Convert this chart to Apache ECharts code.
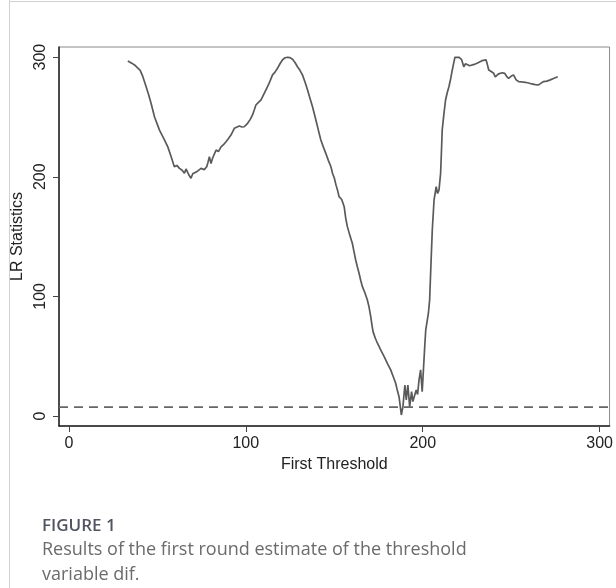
<!DOCTYPE html>
<html>
<head>
<meta charset="utf-8">
<script src="https://cdn.jsdelivr.net/npm/echarts@6/dist/echarts.min.js"></script>
<style>
  html, body { margin: 0; padding: 0; background: #fff; }
  #main { width: 616px; height: 588px; }
</style>
</head>
<body>
<div id="main"></div>
<script>
// threshold grid values (x) and LR statistic (y)
var thresholds = [
  33.3, 35.5, 37.1, 40.3, 41.8, 43.7, 45.2, 46.5, 48.4, 51.2, 54.0, 55.9, 57.8, 59.6, 61.0, 62.5,
  64.0, 65.3, 66.2, 67.1, 68.0, 69.0, 70.0, 70.9, 72.5, 74.7, 76.5, 77.9, 78.6, 79.4, 80.3, 81.2,
  82.2, 83.2, 84.5, 86.0, 87.5, 88.8, 90.2, 91.6, 93.5, 94.5, 96.3, 97.8, 99.1, 101.0, 102.5, 103.8,
  104.8, 105.7, 107.0, 108.6, 110.4, 111.8, 113.2, 115.1, 116.5, 117.9, 119.3, 120.7, 122.2, 123.6,
  125.0, 126.4, 127.8, 129.2, 130.6, 132.0, 133.5, 134.9, 136.3, 137.7, 139.6, 141.0, 142.4, 143.8,
  145.2, 146.7, 148.1, 149.0, 150.0, 151.0, 151.8, 152.7, 154.2, 155.6, 156.5, 157.4, 158.8, 160.2,
  161.2, 162.1, 163.0, 164.0, 165.0, 165.9, 167.3, 168.7, 169.6, 170.6, 171.3, 171.9, 173.2, 174.4,
  176.3, 178.2, 180.0, 181.9, 183.3, 184.7, 185.7, 186.6, 187.3, 187.9, 188.8, 189.9, 190.7, 191.6,
  192.6, 193.7, 194.4, 195.0, 196.3, 197.1, 197.9, 198.8, 199.7, 200.7, 201.2, 201.7, 202.6, 203.2,
  203.9, 204.6, 205.4, 206.4, 207.0, 207.6, 208.4, 209.2, 210.1, 210.6, 211.0, 212.0, 212.9, 213.8,
  214.8, 215.8, 216.7, 217.5, 218.2, 219.3, 220.4, 221.9, 222.6, 223.2, 224.2, 225.1, 226.5, 227.9,
  229.3, 230.7, 232.1, 233.5, 235.8, 236.5, 237.3, 238.7, 240.1, 241.0, 241.9, 242.8, 243.8, 245.0,
  246.3, 247.4, 248.5, 249.9, 251.3, 252.8, 254.2, 256.0, 257.9, 259.8, 261.7, 263.6, 265.5, 266.9,
  268.3, 270.2, 272.1, 274.2, 276.3
];
var lrStats = [
  296.8, 295, 293.5, 289, 283.7, 275, 268, 261, 250, 239, 230.8, 225, 216.8, 208.4, 209.5, 207,
  205.5, 203, 206.5, 205.7, 201, 198.7, 202.5, 203.4, 204.5, 207, 206, 208.4, 212, 216.8, 211, 215.5,
  219, 222.4, 221, 225, 227, 229.3, 232, 234.9, 240.5, 241.4, 242.4, 241.6, 241.8, 244.7, 248, 251.7,
  256, 260, 262, 264.2, 269.8, 274, 278.2, 285.2, 287.5, 290.7, 294.5, 297.7, 299.5, 299.9,
  299.6, 298.2, 295.5, 292, 289, 285.2, 279, 272.6, 265.5, 258.6, 247.5, 239, 230.8, 225,
  219.6, 213.5, 208.4, 203, 199, 193, 189, 183.4, 181, 175, 165, 158.3, 151, 144.4,
  137, 130.4, 125, 119.3, 113, 108.1, 103, 97, 91.4, 83, 76, 70.5, 65, 60.8,
  55, 49.6, 44, 38.5, 33, 27.3, 21, 16.1, 8, 0.8, 7.8, 25.9, 13.4, 25.9,
  7.8, 20.3, 12, 13.4, 21.7, 18, 30.1, 38.5, 20.3, 46.8, 60, 71.9, 80.3, 85.9,
  97, 125, 155.5, 180.6, 186, 191.7, 186, 189, 202.9, 222, 239.1, 253, 264.2, 270,
  275.3, 282, 289.3, 295, 299.9, 299.6, 299.9, 298.2, 295, 292, 294.5, 294, 292.8, 293.5,
  294, 294.9, 296, 297.1, 297.7, 294, 289.3, 288, 286.5, 283.5, 282.3, 286, 287, 287,
  286.5, 284, 282.3, 284, 285.2, 281, 279.6, 279.3, 279, 278.4, 277.6, 277, 276.8, 278.3,
  279.6, 280, 281, 282.3, 283.7
];
var criticalValue = 7.35;
var xTicks = [0, 100, 200, 300];
var yTicks = [0, 100, 200, 300];

var xMin = -5.6, xMax = 305.6;
var yMin = -8.4, yMax = 308.5;

var chart = echarts.init(document.getElementById('main'));
var fontFam = '"Liberation Sans", Arial, sans-serif';
var capFont = '"Open Sans", "Noto Sans", sans-serif';

var option = {
  backgroundColor: '#fff',
  animation: false,
  grid: {
    left: 59, right: 5, top: 47, bottom: 162,
    show: true, borderColor: '#8a8a8a', borderWidth: 1
  },
  xAxis: {
    type: 'value',
    min: xMin, max: xMax,
    name: 'First Threshold',
    nameLocation: 'middle',
    nameGap: 31,
    nameTextStyle: { fontFamily: fontFam, fontSize: 16, color: '#222' },
    axisLine: { show: true, onZero: false, lineStyle: { color: '#222', width: 1.5 } },
    axisTick: { show: true, length: 6, customValues: xTicks, lineStyle: { color: '#444' } },
    axisLabel: { customValues: xTicks, margin: 10, fontFamily: fontFam, fontSize: 16, color: '#222' },
    splitLine: { show: false }
  },
  yAxis: {
    type: 'value',
    min: yMin, max: yMax,
    name: 'LR Statistics',
    nameLocation: 'middle',
    nameGap: 30,
    nameRotate: 90,
    nameTextStyle: { fontFamily: fontFam, fontSize: 16, color: '#222' },
    axisLine: { show: true, onZero: false, lineStyle: { color: '#222', width: 1.5 } },
    axisTick: { show: true, length: 6, customValues: yTicks, lineStyle: { color: '#444' } },
    axisLabel: { customValues: yTicks, rotate: 90, margin: 10, fontFamily: fontFam, fontSize: 16, color: '#222' },
    splitLine: { show: false }
  },
  series: [
    {
      name: 'LR',
      type: 'line',
      data: thresholds.map(function (t, i) { return [t, lrStats[i]]; }),
      showSymbol: false,
      lineStyle: { color: '#5a5a5a', width: 1.7 },
      z: 3
    },
    {
      name: 'critical',
      type: 'line',
      data: [[xMin, criticalValue], [xMax, criticalValue]],
      showSymbol: false,
      lineStyle: { color: '#666', width: 1.7, type: [9, 6] },
      z: 2
    }
  ],
  graphic: [
    { type: 'line', shape: { x1: 9.5, y1: 0, x2: 9.5, y2: 588 }, style: { stroke: '#d0d0d0', lineWidth: 1 } },
    { type: 'line', shape: { x1: 9.5, y1: 1.5, x2: 616, y2: 1.5 }, style: { stroke: '#d0d0d0', lineWidth: 1 } },
    {
      type: 'text', left: 42, top: 518,
      style: { text: 'FIGURE 1', font: '600 17px ' + capFont, fill: '#4f5661' }
    },
    {
      type: 'text', left: 42, top: 537,
      style: {
        text: 'Results of the first round estimate of the threshold\nvariable dif.',
        font: '18px ' + capFont, fill: '#6b6b6b', lineHeight: 25
      }
    }
  ]
};
chart.setOption(option);
</script>
</body>
</html>
